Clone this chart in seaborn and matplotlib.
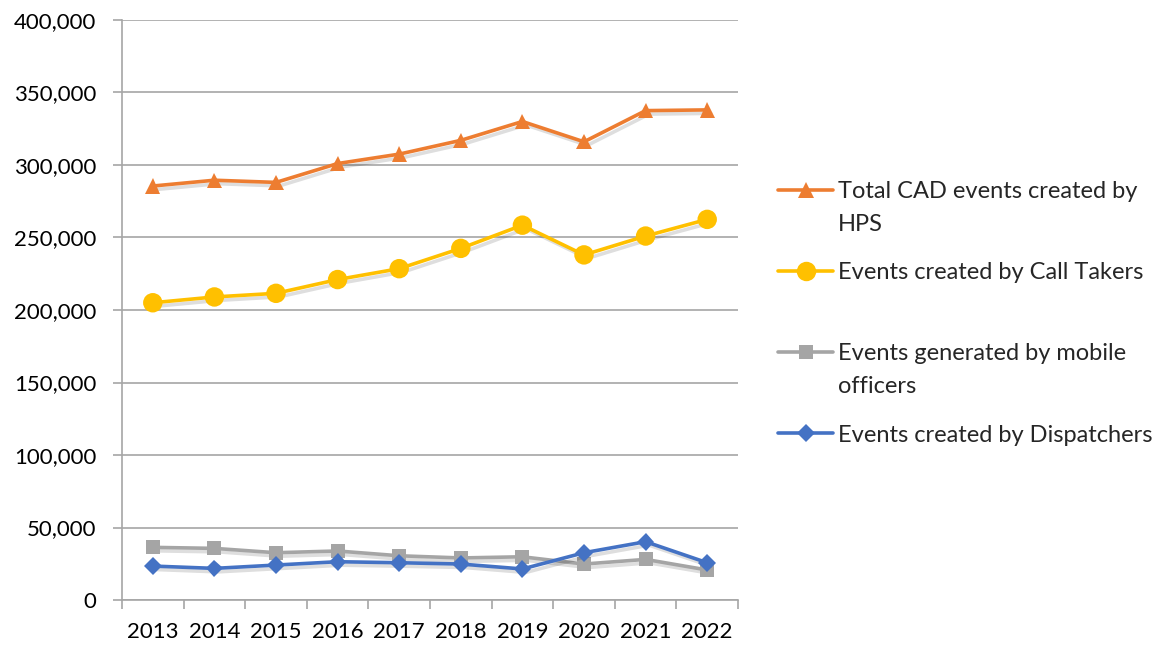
import numpy as np
import pandas as pd
import matplotlib
matplotlib.use("Agg")
import matplotlib.pyplot as plt
import matplotlib.patheffects as pe
from matplotlib.ticker import FuncFormatter, FixedLocator
import seaborn as sns

years = ["2013", "2014", "2015", "2016", "2017", "2018", "2019", "2020", "2021", "2022"]
total_hps = [285500, 289500, 288000, 301000, 307500, 317000, 330000, 316000, 337500, 338000]
call_takers = [205000, 209000, 211500, 221000, 228500, 242500, 258500, 238000, 251000, 262500]
mobile = [36300, 35600, 32600, 33800, 30500, 29000, 29800, 24800, 28000, 20700]
dispatchers = [23400, 21800, 24100, 26400, 25700, 24800, 21400, 32600, 40200, 25700]

series_names = ["Total CAD events created by", "Events created by Call Takers",
                "Events generated by mobile", "Events created by Dispatchers"]
extra_lines = ["HPS", None, "officers", None]
colors = ["#ED7D31", "#FFC000", "#A5A5A5", "#4472C4"]
markers = ["^", "o", "s", "D"]
marker_sizes = [11, 14, 10, 9]

df = pd.DataFrame({
    "year": years * 4,
    "value": total_hps + call_takers + mobile + dispatchers,
    "series": np.repeat(series_names, len(years)),
})

sns.set_style("white")
plt.rcParams["font.family"] = ["Lato", "DejaVu Sans"]

fig = plt.figure(figsize=(11.68, 6.45), dpi=100)
ax = fig.add_axes([122 / 1168, 1 - 600 / 645, (738 - 122) / 1168, 580 / 645])

# faint drop shadow like the Excel original
shadow = [pe.SimpleLineShadow(offset=(2.5, -2.5), shadow_color="black", alpha=0.13), pe.Normal()]
for name, col, mk, ms in zip(series_names, colors, markers, marker_sizes):
    sub = df[df["series"] == name]
    sns.lineplot(data=sub, x="year", y="value", ax=ax, color=col, marker=mk,
                 markersize=ms, markeredgewidth=0, linewidth=2.6, label=name,
                 sort=False, path_effects=shadow)

ax.set_xlim(-0.5, len(years) - 0.5)
ax.set_ylim(0, 400000)
ax.set_yticks(np.arange(0, 400001, 50000))
ax.yaxis.set_major_formatter(FuncFormatter(lambda v, p: f"{v:,.0f}"))
ax.grid(axis="y", color="#A6A6A6", linewidth=1.2)
ax.set_axisbelow(True)
ax.set_xlabel("")
ax.set_ylabel("")

for s in ["top", "right"]:
    ax.spines[s].set_visible(False)
for s in ["left", "bottom"]:
    ax.spines[s].set_color("#A6A6A6")
    ax.spines[s].set_linewidth(1.2)

ax.xaxis.set_minor_locator(FixedLocator(np.arange(-0.5, len(years), 1.0)))
ax.tick_params(axis="x", which="major", length=0, pad=16, labelsize=16, labelcolor="black")
ax.tick_params(axis="x", which="minor", length=6.5, width=1.2, color="#A6A6A6", direction="out")
ax.tick_params(axis="y", which="major", length=6.5, width=1.2, color="#A6A6A6",
               direction="out", pad=12, labelsize=16, labelcolor="black")
ax.tick_params(left=True, bottom=True, which="both")

handles, labels = ax.get_legend_handles_labels()
ax.get_legend().remove()
leg = fig.legend(handles, labels, loc="upper left", bbox_to_anchor=(778 / 1168, 1 - 181 / 645),
                 frameon=False, fontsize=17, handlelength=2.35, handletextpad=0.2,
                 labelspacing=2.55, borderpad=0, borderaxespad=0)
for h in leg.legend_handles:
    h.set_path_effects([])

fig.canvas.draw()
inv = fig.transFigure.inverted()
for txt, extra in zip(leg.get_texts(), extra_lines):
    if extra is None:
        continue
    bb = txt.get_window_extent()
    x0, y0 = inv.transform((bb.x0, (bb.y0 + bb.y1) / 2 - 33))
    fig.text(x0, y0, extra, fontsize=17, va="center", ha="left")

fig.savefig("out.png", dpi=100)
